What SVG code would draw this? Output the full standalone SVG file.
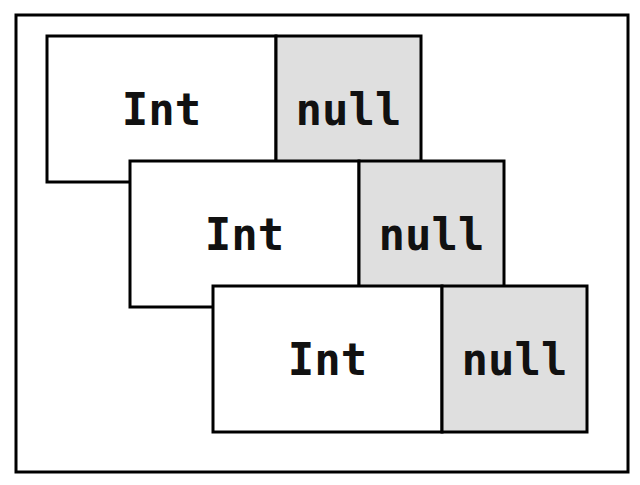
<svg xmlns="http://www.w3.org/2000/svg" width="640" height="485" viewBox="0 0 640 485">
<style>
.box{stroke:#000;stroke-width:3;}
.int{fill:#fff;}
.nul{fill:#dfdfdf;}
.lbl{font-family:"DejaVu Sans Mono","Liberation Mono",monospace;font-weight:bold;font-size:44px;fill:#111;text-anchor:middle;dominant-baseline:central;}
</style>
<rect x="0" y="0" width="640" height="485" fill="#fff"/>
<rect id="frame" x="16" y="15" width="612" height="457" fill="#fff" stroke="#000" stroke-width="3"/>
<g id="card1">
<rect class="box int" x="47" y="36" width="229" height="146"/>
<rect class="box nul" x="276" y="36" width="145" height="146"/>
<text class="lbl" x="161.5" y="109">Int</text>
<text class="lbl" x="348.5" y="109">null</text>
</g>
<g id="card2">
<rect class="box int" x="130" y="161" width="229" height="146"/>
<rect class="box nul" x="359" y="161" width="145" height="146"/>
<text class="lbl" x="244.5" y="234">Int</text>
<text class="lbl" x="431.5" y="234">null</text>
</g>
<g id="card3">
<rect class="box int" x="213" y="286" width="229" height="146"/>
<rect class="box nul" x="442" y="286" width="145" height="146"/>
<text class="lbl" x="327.5" y="359">Int</text>
<text class="lbl" x="514.5" y="359">null</text>
</g>
<g id="connectors"></g>
</svg>
